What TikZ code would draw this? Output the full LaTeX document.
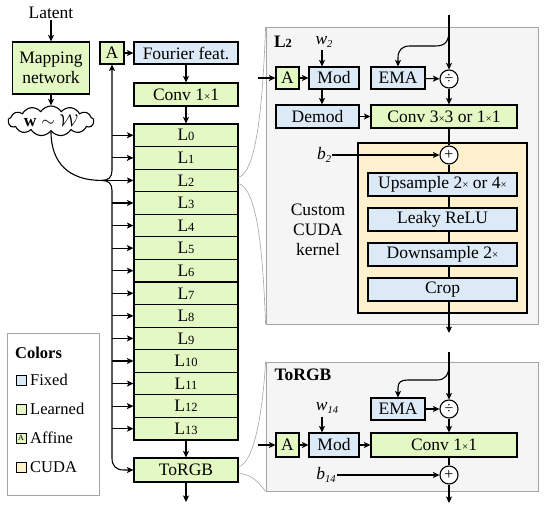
\documentclass[tikz,border=0pt]{standalone}
\usepackage{fontspec}
\setmainfont{Liberation Serif}
\usetikzlibrary{shapes.symbols,arrows.meta,calc,shadows}
\definecolor{learnc}{RGB}{228,248,195}
\definecolor{fixedc}{RGB}{220,233,246}
\definecolor{cudac}{RGB}{255,240,206}
\definecolor{panelc}{RGB}{245,245,245}
\definecolor{panelb}{RGB}{165,165,165}
\newcommand\fsz{\fontsize{17.5}{20}\selectfont}
\newcommand\tms{{\fontsize{11}{11}\selectfont ×}}
\newcommand\lsub[1]{{\fontsize{12.5}{12.5}\selectfont #1}}
\newcommand\isub[1]{\raisebox{-3.5pt}{\fontsize{10.5}{10.5}\selectfont\itshape #1}}
\begin{document}
\begin{tikzpicture}[x=1pt,y=-1pt,font=\fsz,
  arr/.style={-{Stealth[length=6.5pt,width=6pt,inset=1.5pt]}, line width=1.1pt},
  ln/.style={line width=1.1pt},
  blk/.style={draw, line width=1.1pt, inner sep=0pt, anchor=center},
  lbox/.style={blk, fill=learnc},
  fbox/.style={blk, fill=fixedc},
  opc/.style={draw, circle, fill=white, line width=1.1pt, minimum size=18pt, inner sep=0pt, font=\fontsize{16}{16}\selectfont},
  gcurve/.style={draw=panelb, line width=0.6pt},
  panel/.style={fill=panelc, draw=panelb, line width=0.8pt, inner sep=0pt,
     drop shadow={shadow xshift=1.2pt, shadow yshift=-1.2pt, fill=black, opacity=0.18}},
  lbl/.style={inner sep=1pt},
  swatch/.style={draw, line width=0.7pt, minimum size=10pt, inner sep=0pt},
]
\useasboundingbox (0,0) rectangle (549,505);

% ---------- main column ----------
\node[lbl] (latent) at (51,13) {Latent};
\node[lbox, minimum width=77pt, minimum height=52pt, align=center] (map) at (51,68) {Mapping\\network};
\node[cloud, draw, line width=1.1pt, cloud puffs=13, cloud puff arc=115, aspect=2.9,
      minimum width=86pt, minimum height=30pt, inner sep=0pt] (cloud) at (51,121) {};
\node[lbl] (cloudtxt) at (51,121) {$\mathbf{w}\sim\mathcal{W}$};
\draw[arr] (latent) -- (map);
\draw[arr] (map) -- (cloud);

\node[lbox, minimum width=24pt, minimum height=22pt] (affA) at (112,53) {A};
\node[fbox, minimum width=104pt, minimum height=22pt] (four) at (186,53) {Fourier feat.};
\node[lbox, minimum width=104pt, minimum height=23pt] (conv0) at (186,94.5) {Conv 1\tms1};
\foreach \i in {0,...,13} {
  \node[lbox, minimum width=104pt, minimum height=22.57pt] (L\i) at (186,{124+22.57*(\i+0.5)}) {L\lsub{\i}};
}
\node[lbox, minimum width=104pt, minimum height=24pt] (torgb) at (186,470) {ToRGB};
\coordinate (outm) at (186,502);
\draw[arr] (affA) -- (four);
\draw[arr] (four) -- (conv0);
\draw[arr] (conv0) -- (L0);
\draw[arr] (L13) -- (torgb);
\draw[arr] (torgb) -- (outm);

% bus
\coordinate (bus) at (112,0);
\coordinate (jn) at ($(L2.west)+(-32,0)$);
\draw[ln] (cloud.south) .. controls +(0,32) and +(-32,0) .. (jn);
\draw[arr] (jn) -- (L2.west);
\draw[arr] (jn) .. controls +(7,0) and +(0,7) .. ($(bus |- jn)+(0,-10)$) -- (affA.south);
\draw[arr] (jn) .. controls +(7,0) and +(0,-7) .. ($(bus |- jn)+(0,10)$) -- ($(bus |- torgb.west)+(0,-12)$)
   .. controls +(0,8) and +(-8,0) .. ($(bus |- torgb.west)+(12,0)$) -- (torgb.west);
\foreach \i in {0,1,3,4,...,13} { \draw[arr] (bus |- L\i.west) -- (L\i.west); }

% ---------- panels ----------
\node[panel, minimum width=272pt, minimum height=297pt] (pL2) at (402,175.5) {};
\node[panel, minimum width=272pt, minimum height=129pt] (pT) at (402,426.5) {};
\draw[gcurve] ($(L2.east)+(0,-3)$) .. controls +(18,-6) and +(-3,80) .. (pL2.north west);
\draw[gcurve] ($(L2.east)+(0,3)$) .. controls +(18,6) and +(-3,-80) .. (pL2.south west);
\draw[gcurve] ($(torgb.east)+(0,-3)$) .. controls +(16,-5) and +(-3,50) .. (pT.north west);
\draw[gcurve] ($(torgb.east)+(0,3)$) .. controls +(14,2) and +(-8,-10) .. (pT.south west);

% ---------- L2 panel ----------
\node[lbl, font=\bfseries\fsz] (tL2) at (283,42) {L\lsub{2}};
\node[lbl] (w2) at (324,42) {\textit{w}\isub{2}};
\coordinate (wx2) at (322,50);
\node[lbox, minimum width=23pt, minimum height=22pt] (A2) at (287.5,78) {A};
\node[fbox, minimum width=50pt, minimum height=22pt] (mod2) at (334,78) {Mod};
\node[fbox, minimum width=54pt, minimum height=22pt] (ema2) at (398,78) {EMA};
\node[opc] (div2) at (449,79) {÷};
\node[fbox, minimum width=83pt, minimum height=23pt] (demod) at (317.5,116.5) {Demod};
\node[lbox, minimum width=146pt, minimum height=23pt] (conv2) at (444,116.5) {Conv 3\tms3 or 1\tms1};
\coordinate (in2) at (449,15);
\coordinate (br2) at (449,30);
\coordinate (ina2) at (258,78);
\draw[arr] (in2) -- (div2.north);
\draw[arr] (br2) .. controls +(0,12) and +(10,0) .. (435,46) -- (410,46) .. controls +(-8,0) and +(0,-8) .. (398,58) -- (ema2.north);
\draw[arr] (ema2) -- (div2);
\draw[arr] (div2.south) -- (div2 |- conv2.north);
\draw[arr] (wx2) -- (wx2 |- mod2.north);
\draw[arr] (wx2 |- mod2.south) -- (wx2 |- demod.north);
\draw[arr] (ina2) -- (A2.west);
\draw[arr] (A2) -- (mod2);
\draw[arr] (demod) -- (conv2);

\node[blk, fill=cudac, minimum width=169pt, minimum height=170pt] (cuda) at (442.5,228) {};
\node[opc] (plus2) at (449,155) {+};
\node[lbl] (b2) at (324,155) {\textit{b}\isub{2}};
\node[fbox, minimum width=149pt, minimum height=23pt] (up) at (442.5,184.5) {Upsample 2\tms{} or 4\tms};
\node[fbox, minimum width=149pt, minimum height=23pt] (leaky) at (442.5,219.5) {Leaky ReLU};
\node[fbox, minimum width=149pt, minimum height=23pt] (down) at (442.5,254.5) {Downsample 2\tms};
\node[fbox, minimum width=149pt, minimum height=23pt] (crop) at (442.5,289.5) {Crop};
\node[lbl, align=center] (cck) at (318,230) {Custom\\CUDA\\kernel};
\coordinate (out2) at (449,333);
\draw[ln] (plus2 |- conv2.south) -- (plus2.north);
\draw[arr] (b2.east |- plus2) -- (plus2.west);
\draw[ln] (plus2.south) -- (plus2 |- up.north);
\draw[ln] (plus2 |- up.south) -- (plus2 |- leaky.north);
\draw[ln] (plus2 |- leaky.south) -- (plus2 |- down.north);
\draw[ln] (plus2 |- down.south) -- (plus2 |- crop.north);
\draw[arr] (plus2 |- crop.south) -- (out2);

% ---------- ToRGB panel ----------
\node[lbl, font=\bfseries\fsz] (tT) at (303,375) {ToRGB};
\node[fbox, minimum width=54pt, minimum height=22pt] (ema3) at (398,409) {EMA};
\node[opc] (div3) at (449,409) {÷};
\node[lbl] (w14) at (327,408) {\textit{w}\isub{14}};
\coordinate (wx3) at (322,417);
\node[lbox, minimum width=23pt, minimum height=24pt] (A3) at (287.5,445) {A};
\node[fbox, minimum width=50pt, minimum height=24pt] (mod3) at (334,445) {Mod};
\node[lbox, minimum width=146pt, minimum height=24pt] (conv3) at (444,445) {Conv 1\tms1};
\node[opc] (plus3) at (449,475) {+};
\node[lbl] (b14) at (326,475) {\textit{b}\isub{14}};
\coordinate (in3) at (449,352);
\coordinate (br3) at (449,365);
\coordinate (ina3) at (258,445);
\coordinate (out3) at (449,503);
\draw[arr] (in3) -- (div3.north);
\draw[arr] (br3) .. controls +(0,10) and +(8,0) .. (437,380) -- (408,380) .. controls +(-7,0) and +(0,-6) .. (398,388) -- (ema3.north);
\draw[arr] (ema3) -- (div3);
\draw[arr] (div3.south) -- (div3 |- conv3.north);
\draw[arr] (wx3) -- (wx3 |- mod3.north);
\draw[arr] (ina3) -- (A3.west);
\draw[arr] (A3) -- (mod3);
\draw[arr] (mod3) -- (conv3);
\draw[ln] (plus3 |- conv3.south) -- (plus3.north);
\draw[arr] (b14.east |- plus3) -- (plus3.west);
\draw[arr] (plus3.south) -- (out3);

% ---------- legend ----------
\node[draw=panelb, line width=0.8pt, fill=white, minimum width=92pt, minimum height=162pt, inner sep=0pt,
      drop shadow={shadow xshift=1.2pt, shadow yshift=-1.2pt, fill=black, opacity=0.18}] (leg) at (53,414) {};
\node[anchor=west, inner sep=0pt, font=\bfseries\fontsize{16.5}{18}\selectfont] (legt) at (15,353) {Colors};
\node[swatch, fill=fixedc] (s1) at (21,380) {};
\node[swatch, fill=learnc] (s2) at (21,409) {};
\node[swatch, fill=learnc, font=\fontsize{8}{8}\selectfont] (s3) at (21,438) {A};
\node[swatch, fill=cudac] (s4) at (21,467) {};
\node[anchor=west, inner sep=0pt, font=\fontsize{16.5}{18}\selectfont] (t1) at (30,380) {Fixed};
\node[anchor=west, inner sep=0pt, font=\fontsize{16.5}{18}\selectfont] (t2) at (30,409) {Learned};
\node[anchor=west, inner sep=0pt, font=\fontsize{16.5}{18}\selectfont] (t3) at (30,438) {Affine};
\node[anchor=west, inner sep=0pt, font=\fontsize{16.5}{18}\selectfont] (t4) at (30,467) {CUDA};
\end{tikzpicture}
\end{document}
